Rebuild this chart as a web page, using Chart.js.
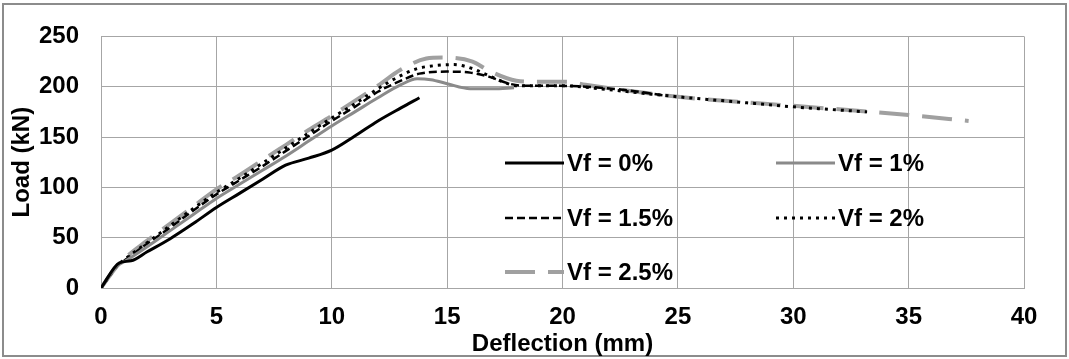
<!DOCTYPE html>
<html>
<head>
<meta charset="utf-8">
<script src="https://cdn.jsdelivr.net/npm/chart.js@4"></script>
<style>
  body { margin: 0; background: #fff; }
  #wrap { width: 1069px; height: 359px; }
</style>
</head>
<body>
<div id="wrap"><canvas id="loadChart"></canvas></div>
<script>
// Load-deflection curves
const seriesLabels = ['Vf = 0%', 'Vf = 1%', 'Vf = 1.5%', 'Vf = 2%', 'Vf = 2.5%'];

const defl0 = [0, 0.8, 1.3, 2, 3, 4, 5, 6, 7, 8, 9, 10, 11, 12, 13, 13.8];
const load0 = [0, 25, 27, 36, 49, 64, 80, 94, 108, 122, 129, 137, 151, 166, 179, 189];

const defl1 = [0, 0.7, 1, 2, 3, 4, 5, 6, 7, 8, 9, 10, 11, 12, 13, 13.7, 14.3, 15, 16, 17, 17.9];
const load1 = [0, 22, 26, 41, 57, 73, 89, 103, 117, 131, 146, 161, 175, 189, 202, 208, 207, 203, 198, 198, 199];

const defl15 = [0, 0.7, 1, 2, 3, 4, 5, 6, 7, 8, 9, 10, 11, 12, 13, 13.8, 15, 16, 16.8, 17.7, 18.3, 19.7, 21, 22.6, 24.5];
const load15 = [0, 22, 27, 44, 60, 77, 93, 107, 121, 136, 151, 166, 180, 195, 206, 213, 215, 214, 210, 203, 201, 201, 200, 197, 191];

const defl2 = [0, 0.7, 1, 2, 3, 4, 5, 6, 7, 8, 9, 10, 11, 12, 12.9, 13.7, 14.5, 15.3, 16.1, 16.8, 17.4, 18, 20, 22, 25, 28, 30, 33.2];
const load2 = [0, 22, 28, 45, 62, 79, 95, 109, 124, 139, 154, 169, 183, 198, 210, 218, 221, 222, 218, 211, 205, 201, 201, 197, 190, 184, 180, 175];

const defl25 = [0, 0.7, 1, 2, 3, 4, 5, 6, 7, 8, 9, 10, 11, 12, 13, 14.1, 14.8, 16.1, 16.8, 18, 18.8, 20.2, 21, 25, 30, 35, 37.6];
const load25 = [0, 22, 29, 47, 64, 81, 98, 112, 127, 142, 157, 171, 186, 201, 217, 228, 229, 225, 216, 206, 205, 205, 202, 190, 181, 172, 166];

const xTicks = [0, 5, 10, 15, 20, 25, 30, 35, 40];
const yTicks = [0, 50, 100, 150, 200, 250];

function toPoints(xs, ys) {
    return xs.map((x, i) => ({ x: x, y: ys[i] }));
}

const allDefl = [defl0, defl1, defl15, defl2, defl25];
const allLoad = [load0, load1, load15, load2, load25];
const lineColors = ['#000000', '#8a8a8a', '#000000', '#000000', '#a0a0a0'];
const lineWidths = [3, 3, 2.5, 3, 4];
const lineDashes = [[], [], [8, 4], [3, 5], [30, 13]];

const datasets = seriesLabels.map((label, i) => ({
    label: label,
    data: toPoints(allDefl[i], allLoad[i]),
    borderColor: lineColors[i],
    borderWidth: lineWidths[i],
    borderDash: lineDashes[i],
    pointRadius: 0,
    fill: false,
    cubicInterpolationMode: 'monotone'
}));

const FONT = '"Liberation Sans", Arial, sans-serif';
const FONT_SIZE = 24;

// outer frame and white background
const framePlugin = {
    id: 'frame',
    beforeDraw(chart) {
        const ctx = chart.ctx;
        ctx.save();
        ctx.fillStyle = '#fff';
        ctx.fillRect(0, 0, chart.width, chart.height);
        ctx.strokeStyle = '#8c8c8c';
        ctx.lineWidth = 2;
        ctx.strokeRect(3, 4, 1063, 352);
        ctx.restore();
    }
};

// legend drawn inside the plot, two columns
const legendPlugin = {
    id: 'insideLegend',
    afterDraw(chart) {
        const ctx = chart.ctx;
        const colX = [567, 838];
        const rowY = [163, 218, 272];
        ctx.save();
        chart.data.datasets.forEach((ds, i) => {
            const tx = colX[i % 2];
            const ty = rowY[Math.floor(i / 2)];
            ctx.beginPath();
            ctx.strokeStyle = ds.borderColor;
            ctx.lineWidth = ds.borderWidth;
            ctx.setLineDash(ds.borderDash);
            ctx.moveTo(tx - 62, ty);
            ctx.lineTo(tx - 3, ty);
            ctx.stroke();
            ctx.setLineDash([]);
            ctx.fillStyle = '#000';
            ctx.font = 'bold ' + FONT_SIZE + 'px ' + FONT;
            ctx.textBaseline = 'middle';
            ctx.textAlign = 'left';
            ctx.fillText(ds.label, tx, ty + 1);
        });
        ctx.restore();
    }
};

const ctx = document.getElementById('loadChart').getContext('2d');
new Chart(ctx, {
    type: 'line',
    data: { datasets: datasets },
    options: {
        responsive: true,
        maintainAspectRatio: false,
        animation: false,
        layout: { padding: { top: 32, right: 45, left: 0, bottom: 0 } },
        plugins: {
            legend: { display: false },
            tooltip: { enabled: false }
        },
        scales: {
            x: {
                type: 'linear',
                min: 0,
                max: 40,
                afterBuildTicks: scale => { scale.ticks = xTicks.map(v => ({ value: v })); },
                afterFit: scale => { scale.height = 71; },
                ticks: { color: '#000', padding: 15, font: { family: FONT, size: FONT_SIZE, weight: 'bold' } },
                grid: { color: '#a6a6a6', lineWidth: 1, drawTicks: false },
                border: { color: '#a6a6a6' },
                title: {
                    display: true,
                    text: 'Deflection (mm)',
                    color: '#000',
                    padding: { top: 0, bottom: 0 },
                    font: { family: FONT, size: FONT_SIZE, weight: 'bold' }
                }
            },
            y: {
                min: 0,
                max: 250,
                afterBuildTicks: scale => { scale.ticks = yTicks.map(v => ({ value: v })); },
                afterFit: scale => { scale.width = 101; },
                ticks: { color: '#000', padding: 22, font: { family: FONT, size: FONT_SIZE, weight: 'bold' } },
                grid: { color: '#a6a6a6', lineWidth: 1, drawTicks: false },
                border: { color: '#a6a6a6' },
                title: {
                    display: true,
                    text: 'Load (kN)',
                    color: '#000',
                    padding: { top: 8, bottom: 0 },
                    font: { family: FONT, size: FONT_SIZE, weight: 'bold' }
                }
            }
        }
    },
    plugins: [framePlugin, legendPlugin]
});
</script>
</body>
</html>
